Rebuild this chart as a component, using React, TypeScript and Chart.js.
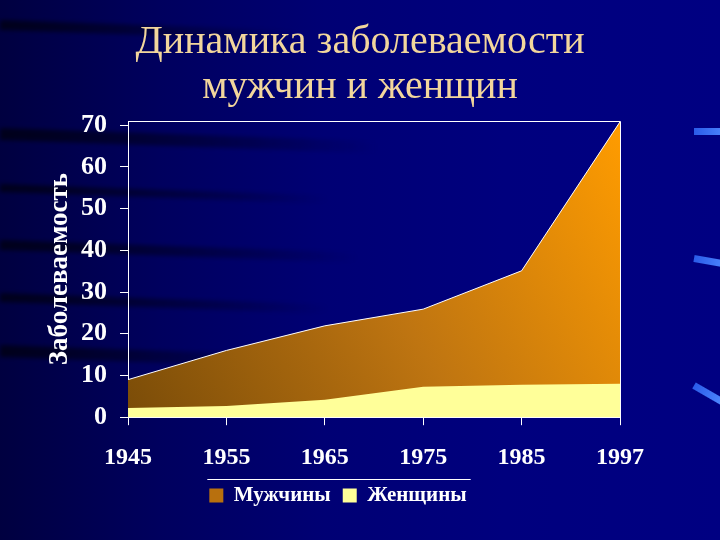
import React, { useEffect, useRef } from "react";
import { Chart, registerables } from "chart.js";

Chart.register(...registerables);

const years = ["1945", "1955", "1965", "1975", "1985", "1997"];
const men = [9, 16, 21.9, 25.9, 35.1, 70.8];
const women = [2.2, 2.7, 4.2, 7.3, 7.8, 8.0];
const yTicks = [0, 10, 20, 30, 40, 50, 60, 70];
const titleLines = ["Динамика заболеваемости", "мужчин и женщин"];
const yTitle = "Заболеваемость";
const seriesNames = ["Мужчины", "Женщины"];

const SERIF = "'Liberation Serif', 'Times New Roman', serif";

function menGradient(ctx: any) {
  const chart = ctx.chart;
  const area = chart.chartArea;
  if (!area) return "#B06A10";
  const g = chart.ctx.createLinearGradient(area.left, area.bottom, area.right, area.top);
  g.addColorStop(0, "#7A4C08");
  g.addColorStop(0.5, "#BF7511");
  g.addColorStop(1, "#FF9C00");
  return g;
}

const decoPlugin = {
  id: "deco",
  afterLayout(chart: any) {
    const lg = chart.legend;
    if (lg) {
      lg.left -= 22;
      lg.right -= 22;
      lg.top -= 17;
      lg.bottom -= 17;
    }
  },
  afterDatasetsDraw(chart: any) {
    const { ctx, chartArea: a } = chart;
    ctx.save();
    ctx.strokeStyle = "#FFFFFF";
    ctx.lineWidth = 1;
    ctx.beginPath();
    ctx.moveTo(a.left, a.top + 0.5);
    ctx.lineTo(a.right + 0.5, a.top + 0.5);
    ctx.lineTo(a.right + 0.5, a.bottom);
    ctx.stroke();
    ctx.restore();
  },
  afterDraw(chart: any) {
    const lg = chart.legend;
    const hb = lg && lg.legendHitBoxes;
    if (!hb || !hb.length) return;
    const last = hb[hb.length - 1];
    const x0 = hb[0].left - 2;
    const x1 = last.left + last.width + 4;
    const y = Math.round(hb[0].top - 6) + 0.5;
    const ctx = chart.ctx;
    ctx.save();
    ctx.strokeStyle = "#FFFFFF";
    ctx.lineWidth = 1;
    ctx.beginPath();
    ctx.moveTo(x0, y);
    ctx.lineTo(x1, y);
    ctx.stroke();
    ctx.restore();
  },
};

export default function App() {
  const ref = useRef<HTMLCanvasElement | null>(null);

  useEffect(() => {
    document.body.style.margin = "0";
    if (!ref.current) return;
    const chart = new Chart(ref.current, {
      type: "line",
      data: {
        labels: years,
        datasets: [
          {
            label: seriesNames[0],
            data: men,
            fill: "origin",
            backgroundColor: menGradient,
            borderColor: "#FFFFFF",
            borderWidth: 1,
            pointRadius: 0,
            tension: 0,
            order: 1,
          },
          {
            label: seriesNames[1],
            data: women,
            fill: "origin",
            backgroundColor: "#FFFF99",
            borderColor: "#FFFF99",
            borderWidth: 0,
            pointRadius: 0,
            tension: 0,
            order: 0,
          },
        ],
      },
      options: {
        animation: false,
        responsive: false,
        devicePixelRatio: 1,
        layout: { padding: { top: 0, left: 0, right: 0, bottom: 7 } },
        plugins: {
          tooltip: { enabled: false },
          title: {
            display: true,
            text: titleLines,
            color: "#F2D69C",
            font: { family: SERIF, size: 40, weight: "normal", lineHeight: 1.125 },
            padding: { top: 20, bottom: 11 },
          },
          legend: {
            display: true,
            position: "bottom",
            labels: {
              color: "#FFFFFF",
              font: { family: SERIF, size: 21, weight: "bold" },
              boxWidth: 14,
              boxHeight: 14,
              padding: 12,
              sort: (a: any, b: any) => a.datasetIndex - b.datasetIndex,
              generateLabels: (c: any) => {
                const items = Chart.defaults.plugins.legend.labels.generateLabels(c);
                items.forEach((it: any) => {
                  it.lineWidth = 0;
                  if (it.datasetIndex === 0) it.fillStyle = "#B8700E";
                  else it.fillStyle = "#FFFF99";
                  it.strokeStyle = it.fillStyle;
                });
                return items;
              },
            },
          },
        },
        scales: {
          x: {
            offset: false,
            grid: { display: true, drawOnChartArea: false, drawTicks: true, tickLength: 8, color: "#FFFFFF" },
            border: { display: true, color: "#FFFFFF", width: 1 },
            ticks: {
              color: "#FFFFFF",
              font: { family: SERIF, size: 24, weight: "bold" },
              padding: 18,
              maxRotation: 0,
              autoSkip: false,
            },
            afterFit: (s: any) => {
              s.paddingRight = 100;
            },
          },
          y: {
            min: 0,
            max: 71,
            grid: { display: true, drawOnChartArea: false, drawTicks: true, tickLength: 8, color: "#FFFFFF" },
            border: { display: true, color: "#FFFFFF", width: 1 },
            afterBuildTicks: (s: any) => {
              s.ticks = yTicks.map((v) => ({ value: v }));
            },
            ticks: {
              color: "#FFFFFF",
              font: { family: SERIF, size: 26, weight: "bold" },
              padding: 13,
            },
            title: {
              display: true,
              text: yTitle,
              color: "#FFFFFF",
              font: { family: SERIF, size: 27, weight: "bold" },
              padding: { top: 44, bottom: 0 },
            },
            afterFit: (s: any) => {
              s.width = 128;
            },
          },
        },
      },
      plugins: [decoPlugin],
    });
    return () => chart.destroy();
  }, []);

  const streaks = [
    { top: 20, h: 10, w: 300 },
    { top: 128, h: 12, w: 380 },
    { top: 184, h: 8, w: 330 },
    { top: 240, h: 10, w: 360 },
    { top: 293, h: 9, w: 330 },
    { top: 345, h: 12, w: 300 },
  ];
  const dashes = [
    { top: 128, rot: 0 },
    { top: 255, rot: 10 },
    { top: 382, rot: 30 },
  ];

  return (
    <div
      style={{
        position: "relative",
        width: 720,
        height: 540,
        overflow: "hidden",
        background:
          "linear-gradient(90deg, #000040 0%, #00005E 22%, #000074 45%, #00007E 70%, #000082 100%)",
      }}
    >
      {streaks.map((s, i) => (
        <div
          key={i}
          style={{
            position: "absolute",
            left: 0,
            top: s.top,
            width: s.w,
            height: s.h,
            background: "linear-gradient(90deg, rgba(0,0,20,0.85), rgba(0,0,30,0.5) 50%, rgba(0,0,40,0))",
            filter: "blur(2px)",
            transform: "rotate(2deg)",
            transformOrigin: "left center",
          }}
        />
      ))}
      {dashes.map((d, i) => (
        <div
          key={"d" + i}
          style={{
            position: "absolute",
            left: 694,
            top: d.top,
            width: 32,
            height: 7,
            background: "linear-gradient(90deg, #2A5BE8, #4D86FF)",
            transform: `rotate(${d.rot}deg)`,
            transformOrigin: "left center",
            filter: "blur(0.6px)",
          }}
        />
      ))}
      <canvas ref={ref} width={720} height={540} style={{ position: "absolute", left: 0, top: 0 }} />
    </div>
  );
}
